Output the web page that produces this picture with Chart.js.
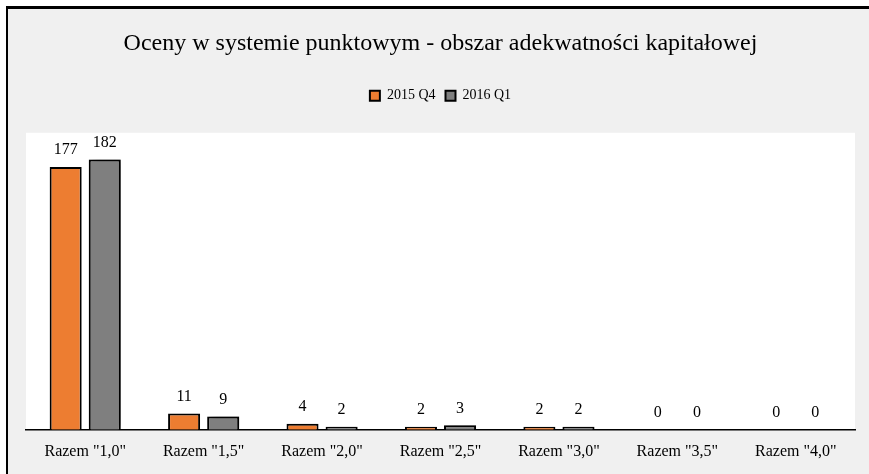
<!DOCTYPE html>
<html>
<head>
<meta charset="utf-8">
<script src="https://cdn.jsdelivr.net/npm/chart.js@4.4.1/dist/chart.umd.min.js"></script>
<style>
    html, body { margin: 0; padding: 0; background: #ffffff; }
    #wrap { width: 869px; height: 474px; position: relative; }
</style>
</head>
<body>
<div id="wrap"><canvas id="ocenyChart"></canvas></div>
<script>
// Dane
const kategorie = ['Razem "1,0"', 'Razem "1,5"', 'Razem "2,0"', 'Razem "2,5"', 'Razem "3,0"', 'Razem "3,5"', 'Razem "4,0"'];
const wartosci2015Q4 = [177, 11, 4, 2, 2, 0, 0];
const wartosci2016Q1 = [182, 9, 2, 3, 2, 0, 0];
const nazwySerii = ['2015 Q4', '2016 Q1'];
const tytul = 'Oceny w systemie punktowym - obszar adekwatności kapitałowej';

const FONT = "'Liberation Serif', 'Times New Roman', serif";

// Tło: szara ramka, czarne linie u góry i z lewej, biały obszar wykresu
const tloPlugin = {
    id: 'tlo',
    beforeDraw(chart) {
        const { ctx, chartArea, width, height } = chart;
        ctx.save();
        ctx.fillStyle = '#ffffff';
        ctx.fillRect(0, 0, width, height);
        ctx.fillStyle = '#f0f0f0';
        ctx.fillRect(6, 6, width - 6, height - 6);
        ctx.fillStyle = '#000000';
        ctx.fillRect(6, 6, width - 6, 3);
        ctx.fillRect(6, 6, 2, height - 6);
        ctx.fillStyle = '#ffffff';
        ctx.fillRect(chartArea.left, chartArea.top, chartArea.right - chartArea.left, chartArea.bottom - chartArea.top);
        ctx.restore();
    }
};

// Cień tylko pod szarymi słupkami
const cienPlugin = {
    id: 'cien',
    beforeDatasetDraw(chart, args) {
        if (args.index !== 1) return;
        const ctx = chart.ctx;
        ctx.save();
        ctx.shadowColor = 'rgba(0, 0, 0, 0.45)';
        ctx.shadowBlur = 7;
        ctx.shadowOffsetX = 3;
        ctx.shadowOffsetY = -2;
    },
    afterDatasetDraw(chart, args) {
        if (args.index !== 1) return;
        chart.ctx.restore();
    }
};

// Etykiety wartości nad słupkami
const etykietyPlugin = {
    id: 'etykiety',
    afterDatasetsDraw(chart) {
        const ctx = chart.ctx;
        ctx.save();
        ctx.font = `16px ${FONT}`;
        ctx.fillStyle = '#000000';
        ctx.textAlign = 'center';
        ctx.textBaseline = 'bottom';
        chart.data.datasets.forEach((ds, i) => {
            const meta = chart.getDatasetMeta(i);
            meta.data.forEach((bar, j) => {
                ctx.fillText(String(ds.data[j]), bar.x, bar.y - 9);
            });
        });
        ctx.restore();
    }
};

// Dodatkowe miejsce pod legendą
const legendaOdstep = {
    id: 'legendaOdstep',
    beforeInit(chart) {
        const origFit = chart.legend.fit;
        chart.legend.fit = function () {
            origFit.bind(chart.legend)();
            this.height += 20;
        };
    }
};

const ctx = document.getElementById('ocenyChart').getContext('2d');
new Chart(ctx, {
    type: 'bar',
    data: {
        labels: kategorie,
        datasets: [{
            label: nazwySerii[0],
            data: wartosci2015Q4,
            backgroundColor: '#ed7d31',
            borderColor: '#000000',
            borderWidth: 2
        }, {
            label: nazwySerii[1],
            data: wartosci2016Q1,
            backgroundColor: '#7f7f7f',
            borderColor: '#000000',
            borderWidth: 2
        }]
    },
    options: {
        responsive: true,
        maintainAspectRatio: false,
        animation: false,
        devicePixelRatio: 1,
        layout: { padding: { left: 26, right: 14, top: 0, bottom: 9 } },
        datasets: {
            bar: { categoryPercentage: 0.66, barPercentage: 0.82 }
        },
        scales: {
            x: {
                grid: { display: false },
                border: { display: true, color: '#000000', width: 1.5 },
                ticks: { color: '#000000', padding: 4, font: { family: FONT, size: 16 } }
            },
            y: {
                display: false,
                min: 0,
                max: 200
            }
        },
        plugins: {
            title: {
                display: true,
                text: tytul,
                color: '#000000',
                font: { family: FONT, size: 24, weight: 'normal' },
                padding: { top: 29, bottom: 21 }
            },
            legend: {
                display: true,
                position: 'top',
                labels: {
                    color: '#000000',
                    boxWidth: 10,
                    boxHeight: 10,
                    padding: 10,
                    font: { family: FONT, size: 14 }
                }
            },
            tooltip: { enabled: false }
        }
    },
    plugins: [tloPlugin, cienPlugin, etykietyPlugin, legendaOdstep]
});
</script>
</body>
</html>
